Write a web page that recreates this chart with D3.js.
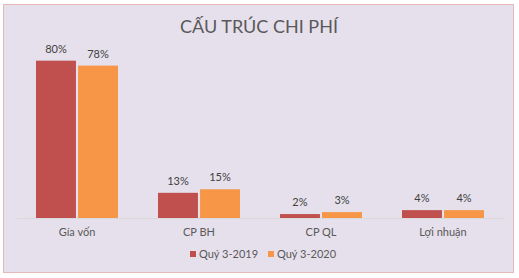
<!DOCTYPE html>
<html><head><meta charset="utf-8">
<script src="https://cdn.jsdelivr.net/npm/d3@7"></script>
<style>body{margin:0;background:#fff}svg{display:block}text{font-family:Lato,"Open Sans",sans-serif}</style>
</head><body>
<svg id="c" width="519" height="278"></svg>
<script>
const categories = ["Gía vốn", "CP BH", "CP QL", "Lợi nhuận"];
const seriesNames = ["Quý 3-2019", "Quý 3-2020"];
const values2019 = [0.80, 0.128, 0.02, 0.04];
const values2020 = [0.775, 0.146, 0.03, 0.04];
const colors = ["#C0504D", "#F79646"];

const svg = d3.select("#c");
svg.append("rect").attr("x", 3.5).attr("y", 4.5).attr("width", 510).attr("height", 268)
  .attr("fill", "#E6E0EC").attr("stroke", "#E6B9B8").attr("stroke-width", 1);

svg.append("text").attr("x", 259).attr("y", 33).attr("text-anchor", "middle")
  .attr("font-size", 18).attr("fill", "#595959").text("CẤU TRÚC CHI PHÍ");

const x0 = d3.scaleBand().domain(categories).range([16, 504]).paddingInner(0.3279).paddingOuter(0.164);
const x1 = d3.scaleBand().domain(seriesNames).range([0, x0.bandwidth()]).paddingInner(0.05);
const y = d3.scaleLinear().domain([0, 0.9]).range([218, 41]);

const series = [values2019, values2020];
categories.forEach((c, i) => {
  series.forEach((vals, s) => {
    const v = vals[i];
    svg.append("rect").attr("x", x0(c) + x1(seriesNames[s])).attr("y", y(v))
      .attr("width", x1.bandwidth()).attr("height", y(0) - y(v)).attr("fill", colors[s]);
    svg.append("text").attr("x", x0(c) + x1(seriesNames[s]) + x1.bandwidth() / 2)
      .attr("y", y(v) - 8).attr("text-anchor", "middle").attr("font-size", 11)
      .attr("fill", "#404040").text(d3.format(".0%")(v));
  });
});

const xAxis = svg.append("g").attr("transform", "translate(0,218)")
  .call(d3.axisBottom(x0).tickSize(0).tickPadding(10));
xAxis.select(".domain").attr("stroke", "#D9D9D9");
xAxis.selectAll("text").attr("font-size", 11).attr("fill", "#595959").style("font-family", "Lato,sans-serif");

const legendX = [190, 268];
seriesNames.forEach((n, s) => {
  const g = svg.append("g").attr("transform", `translate(${legendX[s]},254)`);
  g.append("rect").attr("x", 0).attr("y", -3).attr("width", 6).attr("height", 6).attr("fill", colors[s]);
  g.append("text").attr("x", 9).attr("y", 4).attr("font-size", 11).attr("fill", "#595959").text(n);
});
</script>
</body></html>
